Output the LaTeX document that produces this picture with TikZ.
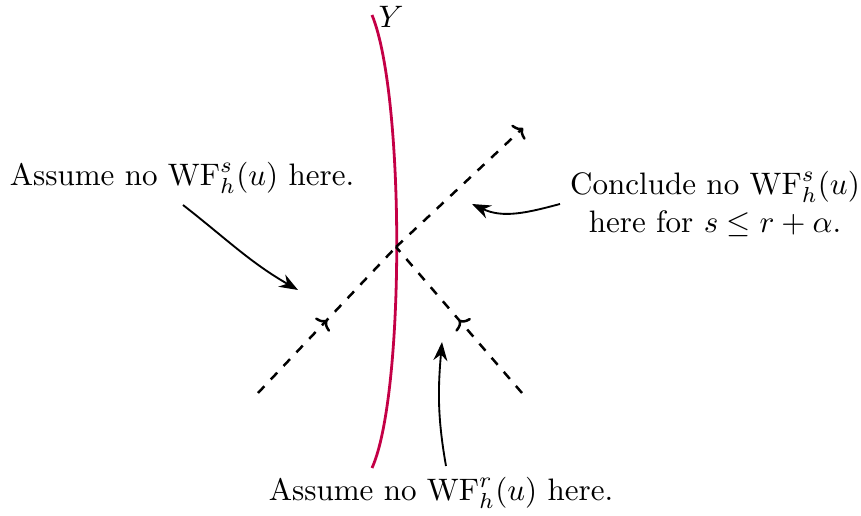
\documentclass[tikz,border=0pt]{standalone}
\usetikzlibrary{decorations.markings,arrows.meta}
\definecolor{ycol}{RGB}{196,0,70}
\begin{document}
\begin{tikzpicture}[x=0.322pt,y=-0.322pt,
  ycurve/.style={ycol,line width=0.9pt},
  ray/.style={dashed,line width=0.8pt},
  note/.style={semithick,-{Stealth[length=6pt,width=4.5pt]}},
  lbl/.style={inner sep=0pt,font=\normalsize},
  midto/.style={postaction={decorate,decoration={markings,mark=at position #1 with {\arrow[line width=0.8pt]{To[length=2.4pt,width=6.4pt]}}}}}
]
\useasboundingbox (0,0) rectangle (861,516);
% Y curve
\coordinate (ybot) at (372,468);
\coordinate (ytop) at (372,15);
\draw[ycurve] (ybot) .. controls (405,395) and (405,95) .. (ytop);
\node[lbl] (ylab) at (391,17) {$Y$};
% rays
\coordinate (r1a) at (258,393);
\coordinate (r1b) at (523,128);
\coordinate (hit) at (396,247);
\coordinate (r2b) at (522,393);
\draw[ray,midto=0.5] (r1a) -- (hit);
\draw[ray,-{To[length=2.4pt,width=6.4pt]}] (hit) -- (r1b);
\draw[ray,midto=0.5] (r2b) -- (hit);
% labels
\node[lbl] (assumeL) at (182,178) {Assume no $\mathrm{WF}_h^s(u)$ here.};
\node[lbl,align=center] (concl) at (715,204) {Conclude no $\mathrm{WF}_h^s(u)$\\ here for $s\le r+\alpha$.};
\node[lbl] (assumeB) at (441,493) {Assume no $\mathrm{WF}_h^r(u)$ here.};
% annotation arrows
\coordinate (aLs) at (183,205);
\coordinate (aLe) at (298,290);
\coordinate (aCs) at (560,204);
\coordinate (aCe) at (472,204);
\coordinate (aBs) at (446,466);
\coordinate (aBe) at (442,342);
\draw[note] (aLs) to[out=-38,in=150] (aLe);
\draw[note] (aCs) to[out=195,in=-25] (aCe);
\draw[note] (aBs) to[out=100,in=-95] (aBe);
\end{tikzpicture}
\end{document}
